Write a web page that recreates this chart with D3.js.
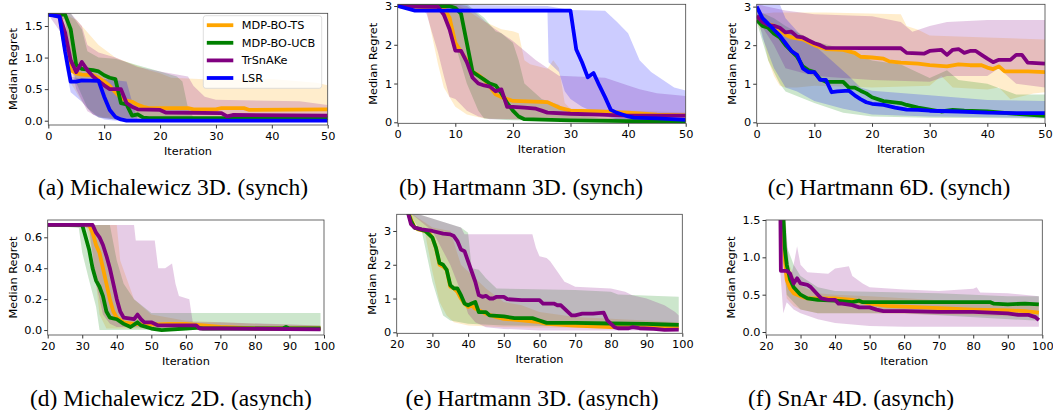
<!DOCTYPE html>
<html>
<head>
<meta charset="utf-8">
<script src="https://cdn.jsdelivr.net/npm/d3@7"></script>
<style>
  body { margin: 0; background: #fff; }
  svg { display: block; }
  .tick text { font-family: "DejaVu Sans", sans-serif; font-size: 11.3px; fill: #000; }
  .lab { font-family: "DejaVu Sans", sans-serif; font-size: 11.3px; fill: #000; }
  .cap { font-family: "Liberation Serif", "Times New Roman", serif; font-size: 23.5px; fill: #000; }
</style>
</head>
<body>
<div id="container"></div>
<script>
const names = ["MDP-BO-TS", "MDP-BO-UCB", "TrSnAKe", "LSR"];
const colors = ["#ffa500", "#008000", "#800080", "#0000ff"];

const topXTicks = [0, 10, 20, 30, 40, 50];
const botXTicks = [20, 30, 40, 50, 60, 70, 80, 90, 100];

// (a) Michalewicz 3D (synch)
const aTsMed = [[0,1.68],[2,1.66],[3,1.15],[4,0.8],[5,0.75],[6,0.73],[8,0.72],[9,0.68],[10,0.62],[11,0.55],[12,0.45],[13,0.36],[14,0.32],[15,0.3],[16,0.25],[17,0.22],[18,0.2],[25,0.2],[26,0.18],[30,0.18],[31,0.2],[35,0.2],[36,0.17],[50,0.18]];
const aTsLo = [[0,1.68],[2,1.6],[3,1.0],[4,0.6],[6,0.3],[8,0.1],[10,0.05],[50,0.04]];
const aTsHi = [[0,1.68],[3,1.68],[5,1.6],[7,1.4],[9,1.2],[12,1.0],[15,0.9],[18,0.8],[20,0.75],[22,0.68],[30,0.65],[40,0.66],[48,0.6],[50,0.56]];
const aUcbMed = [[0,1.68],[3,1.68],[4,1.45],[5,0.88],[6,0.82],[8,0.8],[9,0.78],[10,0.72],[11,0.68],[12,0.66],[13,0.28],[14,0.26],[15,0.08],[16,0.1],[17,0.05],[18,0.04],[50,0.04]];
const aUcbLo = [[0,1.68],[3,1.6],[4,1.0],[5,0.6],[7,0.2],[9,0.05],[12,0.02],[50,0.02]];
const aUcbHi = [[0,1.7],[4,1.7],[6,1.45],[7,1.1],[9,1.0],[12,0.98],[16,0.88],[20,0.78],[23,0.7],[24,0.62],[25,0.2],[26,0.05],[50,0.05]];
const aTrMed = [[0,1.68],[2,1.66],[3,1.4],[4,0.96],[5,0.77],[6,0.93],[7,0.8],[8,0.7],[9,0.63],[10,0.56],[11,0.5],[13,0.5],[14,0.28],[15,0.22],[16,0.18],[20,0.17],[21,0.13],[31,0.12],[32,0.07],[33,0.09],[50,0.08]];
const aTrLo = [[0,1.68],[3,1.3],[5,0.5],[7,0.15],[9,0.05],[12,0.02],[50,0.02]];
const aTrHi = [[0,1.7],[4,1.7],[6,1.5],[7,1.2],[9,1.08],[12,1.0],[16,0.85],[20,0.78],[25,0.7],[26,0.55],[28,0.38],[30,0.33],[45,0.31],[50,0.25]];
const aLsrMed = [[0,1.68],[2,1.65],[3,1.1],[4,0.62],[5,0.62],[6,0.64],[9,0.63],[10,0.38],[11,0.17],[12,0.06],[13,0.02],[14,0.0],[50,0.0]];
const aLsrLo = [[0,1.68],[2,1.6],[3,0.9],[4,0.45],[6,0.3],[8,0.1],[10,0.02],[12,0.0],[50,0.0]];
const aLsrHi = [[0,1.68],[2,1.68],[3,1.5],[4,0.7],[6,0.66],[10,0.66],[12,0.64],[14,0.62],[15,0.3],[16,0.02],[50,0.02]];

// (b) Hartmann 3D (synch)
const bTsMed = [[0,3.0],[8,2.95],[9,2.7],[10,2.05],[11,1.82],[12,1.6],[13,1.3],[14,1.22],[15,1.1],[16,0.92],[17,0.72],[18,0.65],[19,0.6],[20,0.55],[26,0.52],[27,0.45],[28,0.38],[30,0.3],[35,0.28],[40,0.25],[45,0.2],[50,0.18]];
const bTsLo = [[0,3.0],[5,2.9],[6,2.2],[7,1.5],[8,0.9],[10,0.4],[12,0.2],[15,0.1],[20,0.08],[50,0.05]];
const bTsHi = [[0,3.05],[10,3.05],[12,2.9],[15,2.6],[18,2.4],[20,2.35],[21,2.3],[22,1.6],[23,1.5],[26,1.38],[27,1.6],[28,1.4],[29,0.5],[30,0.35],[50,0.25]];
const bUcbMed = [[0,3.0],[9,3.0],[10,2.95],[11,2.8],[12,2.05],[13,1.3],[14,1.2],[15,1.1],[16,1.0],[17,0.95],[18,0.75],[19,0.5],[20,0.3],[21,0.15],[22,0.08],[25,0.07],[30,0.05],[40,0.03],[50,0.02]];
const bUcbLo = [[0,3.0],[8,2.9],[10,2.0],[12,1.0],[14,0.3],[15,0.1],[20,0.05],[50,0.01]];
const bUcbHi = [[0,3.05],[12,3.05],[15,2.7],[17,2.35],[18,2.3],[20,2.05],[21,1.6],[22,1.0],[25,0.6],[28,0.45],[30,0.2],[35,0.12],[50,0.08]];
const bTrMed = [[0,3.0],[7,2.98],[8,2.78],[9,2.4],[10,1.85],[11,1.84],[12,1.55],[13,1.15],[14,1.0],[15,0.95],[16,0.92],[17,0.8],[18,0.85],[19,0.4],[20,0.4],[22,0.38],[24,0.35],[25,0.3],[26,0.25],[30,0.22],[35,0.2],[40,0.17],[50,0.17]];
const bTrLo = [[0,3.0],[4,2.95],[5,2.8],[6,2.3],[7,1.8],[8,1.2],[9,0.65],[10,0.6],[11,0.45],[12,0.3],[14,0.15],[16,0.08],[50,0.05]];
const bTrHi = [[0,3.05],[10,3.05],[12,3.0],[13,2.9],[16,2.5],[20,2.1],[24,1.6],[26,1.4],[28,1.2],[36,1.15],[40,0.95],[42,0.85],[45,0.75],[50,0.68]];
const bLsrMed = [[0,3.0],[3,2.88],[30,2.88],[31,1.88],[32,1.55],[33,1.16],[34,1.27],[35,0.95],[36,0.65],[37,0.32],[38,0.25],[39,0.2],[40,0.15],[41,0.12],[45,0.1],[50,0.06]];
const bLsrLo = [[0,3.0],[3,2.85],[26,2.85],[26.2,1.55],[28,1.3],[29,0.8],[30,0.6],[32,0.4],[35,0.2],[38,0.08],[50,0.04]];
const bLsrHi = [[0,3.05],[26,3.0],[30,2.9],[36,2.88],[38,2.6],[40,2.3],[42,1.6],[44,1.3],[46,1.1],[48,0.9],[50,0.82]];

// (c) Hartmann 6D (synch)
const cTsMed = [[0,2.65],[2,2.55],[3,2.5],[4,2.4],[5,2.27],[6,2.2],[8,2.15],[10,2.0],[12,1.9],[15,1.88],[17,1.8],[18,1.7],[20,1.68],[22,1.65],[23,1.58],[25,1.55],[28,1.52],[30,1.48],[33,1.45],[35,1.5],[37,1.48],[39,1.48],[40,1.42],[41,1.38],[42,1.45],[43,1.32],[47,1.32],[50,1.3]];
const cTsLo = [[0,2.6],[1,2.3],[2,1.6],[3,1.2],[4,0.95],[5,0.9],[7,0.9],[10,0.95],[20,0.9],[30,0.95],[32,1.2],[34,0.9],[40,0.85],[42,0.9],[44,0.6],[48,0.75],[50,0.78]];
const cTsHi = [[0,2.8],[3,2.85],[12,2.85],[25,2.8],[26,2.5],[28,2.4],[30,2.25],[40,2.2],[50,2.15]];
const cUcbMed = [[0,2.65],[1,2.5],[2,2.45],[3,2.3],[4,2.2],[5,2.0],[6,1.85],[7,1.7],[8,1.45],[9,1.35],[10,1.3],[11,1.12],[12,1.05],[15,1.05],[16,0.9],[17,0.9],[18,0.82],[19,0.75],[20,0.65],[22,0.55],[25,0.5],[26,0.45],[28,0.38],[30,0.33],[32,0.28],[34,0.32],[36,0.3],[40,0.28],[45,0.22],[50,0.17]];
const cUcbLo = [[0,2.6],[2,1.6],[4,1.0],[5,0.8],[10,0.5],[15,0.25],[20,0.15],[30,0.12],[50,0.1]];
const cUcbHi = [[0,2.9],[3,2.7],[5,2.5],[10,2.1],[15,1.9],[20,1.6],[25,1.5],[30,1.15],[33,1.35],[35,1.1],[40,1.0],[45,0.72],[50,0.72]];
const cTrMed = [[0,2.76],[1,2.6],[2,2.52],[3,2.5],[4,2.45],[5,2.33],[6,2.35],[7,2.22],[8,2.2],[9,2.12],[10,2.05],[11,2.0],[12,1.93],[25,1.92],[26,1.8],[29,1.78],[30,1.85],[32,1.88],[33,1.75],[34,1.88],[35,1.9],[36,1.8],[37,1.85],[38,1.85],[39,1.75],[40,1.65],[41,1.56],[42,1.62],[44,1.62],[45,1.75],[46,1.75],[47,1.55],[50,1.52]];
const cTrLo = [[0,2.7],[3,2.0],[5,1.4],[10,1.2],[20,1.1],[30,1.05],[33,1.2],[40,1.2],[42,1.4],[45,1.0],[50,0.9]];
const cTrHi = [[0,3.06],[5,2.9],[10,2.8],[20,2.75],[25,2.6],[27,2.35],[30,2.5],[33,2.6],[40,2.65],[50,2.65]];
const cLsrMed = [[0,3.0],[1,2.7],[2,2.55],[3,2.4],[4,2.25],[5,2.05],[6,1.85],[7,1.75],[8,1.4],[9,1.3],[10,1.3],[11,1.1],[12,1.1],[13,0.78],[14,0.8],[16,0.82],[17,0.7],[18,0.6],[19,0.52],[20,0.48],[22,0.45],[24,0.38],[26,0.33],[28,0.32],[30,0.3],[35,0.28],[40,0.25],[45,0.24],[50,0.24]];
const cLsrLo = [[0,2.9],[1,2.2],[3,1.4],[5,0.9],[7,0.8],[10,0.55],[15,0.35],[20,0.2],[30,0.15],[50,0.12]];
const cLsrHi = [[0,3.06],[4,3.06],[5,2.7],[8,2.2],[10,2.0],[13,1.6],[16,1.2],[18,0.9],[20,0.82],[30,0.7],[40,0.58],[50,0.55]];

// (d) Michalewicz 2D (asynch)
const dTsMed = [[20,0.68],[32,0.68],[33,0.63],[34,0.55],[35,0.5],[36,0.4],[37,0.3],[38,0.2],[39,0.12],[40,0.08],[42,0.05],[45,0.04],[50,0.035],[55,0.04],[60,0.04],[65,0.03],[70,0.02],[80,0.01],[99,0.01]];
const dTsLo = [[20,0.68],[31,0.68],[33,0.5],[35,0.1],[37,0.01],[99,0.0]];
const dTsHi = [[20,0.68],[40,0.68],[41,0.45],[45,0.2],[50,0.1],[60,0.06],[80,0.04],[99,0.03]];
const dUcbMed = [[20,0.68],[30,0.68],[31,0.6],[32,0.52],[33,0.4],[34,0.32],[35,0.28],[36,0.22],[37,0.12],[38,0.08],[40,0.07],[42,0.04],[44,0.02],[46,0.05],[47,0.03],[50,0.01],[53,0.0],[60,0.01],[63,0.015],[65,0.01],[88,0.01],[89,0.02],[90,0.01],[99,0.01]];
const dUcbLo = [[20,0.68],[29,0.66],[30,0.5],[32,0.32],[34,0.15],[35,0.0],[99,0.0]];
const dUcbHi = [[20,0.68],[38,0.68],[40,0.45],[42,0.3],[45,0.2],[50,0.11],[99,0.11]];
const dTrMed = [[20,0.68],[33,0.68],[34,0.63],[35,0.6],[36,0.55],[37,0.48],[38,0.4],[39,0.3],[40,0.2],[41,0.12],[42,0.08],[45,0.07],[46,0.1],[47,0.07],[48,0.05],[50,0.05],[52,0.03],[63,0.03],[64,0.01],[70,0.01],[99,0.005]];
const dTrLo = [[20,0.68],[32,0.66],[34,0.3],[36,0.1],[38,0.04],[40,0.02],[99,0.0]];
const dTrHi = [[20,0.68],[45,0.68],[45.5,0.58],[51,0.58],[52,0.4],[54,0.4],[56,0.43],[57,0.3],[58,0.22],[61,0.2],[62,0.05],[70,0.05],[99,0.03]];

// (e) Hartmann 3D (asynch)
const eTsMed = [[23,3.6],[24,3.35],[25,3.1],[26,3.05],[28,3.0],[29,2.95],[30,2.8],[31,2.5],[32,2.0],[33,1.95],[34,1.85],[35,1.35],[36,1.3],[37,1.2],[38,1.0],[39,0.85],[40,0.75],[41,0.8],[42,0.7],[44,0.6],[45,0.55],[48,0.45],[50,0.4],[55,0.35],[60,0.3],[62,0.25],[70,0.2],[80,0.15],[90,0.15],[99,0.13]];
const eTsLo = [[23,3.6],[25,3.05],[28,2.9],[30,1.8],[32,0.9],[34,0.5],[36,0.3],[40,0.2],[50,0.15],[99,0.1]];
const eTsHi = [[23,3.6],[30,3.1],[35,3.0],[38,2.0],[40,1.8],[45,1.3],[50,0.9],[55,0.8],[60,0.6],[70,0.45],[80,0.4],[90,0.35],[99,0.3]];
const eUcbMed = [[23,3.6],[24,3.3],[25,3.1],[28,3.0],[30,2.8],[31,2.5],[32,2.05],[33,2.0],[34,1.85],[35,1.4],[36,1.3],[37,1.3],[38,1.1],[39,0.85],[40,0.8],[41,0.85],[42,0.9],[43,0.6],[45,0.6],[46,0.5],[50,0.47],[53,0.42],[58,0.42],[60,0.35],[62,0.28],[70,0.28],[80,0.26],[90,0.25],[95,0.23],[99,0.22]];
const eUcbLo = [[23,3.6],[26,3.1],[27,3.0],[28,2.5],[30,1.5],[32,0.8],[33,0.5],[35,0.35],[40,0.25],[50,0.2],[99,0.15]];
const eUcbHi = [[23,3.6],[38,3.1],[40,2.95],[41,1.9],[43,1.85],[45,1.6],[48,1.3],[70,1.25],[80,1.2],[82,1.12],[99,1.05]];
const eTrMed = [[23,3.6],[24,3.2],[25,3.1],[27,3.05],[30,3.0],[33,2.92],[35,2.9],[36,2.85],[37,2.7],[38,2.45],[39,2.4],[40,2.1],[41,1.8],[42,1.5],[43,1.1],[44,1.05],[45,1.08],[46,1.0],[47,1.0],[48,1.05],[50,1.05],[51,0.98],[55,0.95],[60,0.95],[61,0.85],[64,0.85],[65,0.8],[66,0.8],[69,0.5],[70,0.5],[72,0.55],[75,0.55],[78,0.58],[79,0.35],[81,0.15],[82,0.12],[85,0.12],[86,0.15],[88,0.12],[92,0.1],[95,0.07],[99,0.08]];
const eTrLo = [[23,3.6],[30,3.0],[35,2.0],[38,1.2],[40,0.55],[42,0.3],[45,0.15],[50,0.1],[60,0.05],[99,0.05]];
const eTrHi = [[23,3.6],[38,3.1],[39,2.9],[58,2.9],[59,2.5],[60,2.25],[62,2.2],[63,2.1],[65,1.8],[67,1.5],[68,1.45],[70,1.35],[80,1.3],[84,1.2],[86,1.1],[90,1.0],[95,0.8],[98,0.6],[99,0.5]];

// (f) SnAr 4D (asynch)
const fTsMed = [[24,2.5],[25.4,1.0],[26,0.7],[27,0.58],[28,0.52],[30,0.48],[32,0.45],[40,0.45],[45,0.43],[50,0.38],[55,0.35],[60,0.34],[70,0.32],[80,0.3],[90,0.29],[95,0.28],[99,0.26]];
const fTsLo = [[24,1.5],[26,0.45],[28,0.35],[30,0.3],[35,0.25],[50,0.25],[99,0.2]];
const fTsHi = [[24,2.5],[25,1.2],[26,1.0],[28,0.75],[30,0.62],[35,0.52],[40,0.5],[50,0.48],[99,0.35]];
const fUcbMed = [[24,2.5],[25.5,1.1],[26,0.9],[27,0.7],[28,0.6],[30,0.5],[32,0.45],[35,0.43],[40,0.42],[45,0.4],[47,0.42],[48,0.4],[85,0.4],[86,0.38],[90,0.37],[95,0.38],[99,0.37]];
const fUcbLo = [[24,1.5],[26,0.5],[28,0.4],[30,0.3],[35,0.25],[60,0.25],[99,0.15]];
const fUcbHi = [[24,2.5],[25,1.5],[26,1.15],[28,0.9],[30,0.75],[35,0.6],[40,0.55],[60,0.53],[70,0.52],[80,0.5],[90,0.48],[99,0.48]];
const fTrMed = [[24,2.5],[24.3,0.82],[26,0.82],[27,0.78],[28,0.65],[29,0.72],[30,0.65],[32,0.63],[33,0.6],[34,0.55],[35,0.5],[36,0.45],[38,0.43],[40,0.43],[41,0.38],[42,0.38],[45,0.36],[47,0.33],[50,0.33],[52,0.3],[54,0.28],[60,0.28],[70,0.27],[80,0.27],[90,0.25],[93,0.23],[96,0.23],[98,0.2],[99,0.16]];
const fTrLo = [[24,0.9],[25,0.25],[26,0.4],[28,0.3],[30,0.25],[35,0.17],[40,0.12],[50,0.08],[60,0.07],[99,0.07]];
const fTrHi = [[24,2.5],[27,0.7],[28,0.9],[29,1.15],[30,0.9],[32,0.8],[38,0.78],[40,0.85],[44,0.88],[45,0.75],[48,0.65],[50,0.6],[60,0.57],[70,0.55],[80,0.58],[81,0.6],[82,0.53],[90,0.52],[99,0.48]];

const panels = [
  { box: [48.3, 327.7, 13.3, 125], xd: [0, 50], yd: [-0.068, 1.701], xt: topXTicks, yt: [0, 0.5, 1.0, 1.5], fmt: ".1f",
    ylabX: 13.3, cap: "(a) Michalewicz 3D. (synch)", capX: 173, capY: 195,
    s: [[aTsMed, aTsLo, aTsHi], [aUcbMed, aUcbLo, aUcbHi], [aTrMed, aTrLo, aTrHi], [aLsrMed, aLsrLo, aLsrHi]], legend: true },
  { box: [397.7, 685.7, 4.3, 123.3], xd: [0, 50], yd: [-0.026, 3.044], xt: topXTicks, yt: [0, 1, 2, 3], fmt: "d",
    ylabX: 373, cap: "(b) Hartmann 3D. (synch)", capX: 521, capY: 195,
    s: [[bTsMed, bTsLo, bTsHi], [bUcbMed, bUcbLo, bUcbHi], [bTrMed, bTrLo, bTrHi], [bLsrMed, bLsrLo, bLsrHi]] },
  { box: [756.7, 1045, 4.3, 123.3], xd: [0, 50], yd: [-0.026, 3.06], xt: topXTicks, yt: [0, 1, 2, 3], fmt: "d",
    ylabX: 731.7, cap: "(c) Hartmann 6D. (synch)", capX: 889, capY: 195,
    s: [[cTsMed, cTsLo, cTsHi], [cUcbMed, cUcbLo, cUcbHi], [cTrMed, cTrLo, cTrHi], [cLsrMed, cLsrLo, cLsrHi]] },
  { box: [47.7, 324, 220, 335], xd: [20, 100], yd: [-0.032, 0.712], xt: botXTicks, yt: [0, 0.2, 0.4, 0.6], fmt: ".1f",
    ylabX: 13.3, cap: "(d) Michalewicz 2D. (asynch)", capX: 171, capY: 406,
    s: [[dTsMed, dTsLo, dTsHi], [dUcbMed, dUcbLo, dUcbHi], [dTrMed, dTrLo, dTrHi]] },
  { box: [396.7, 682.3, 214.3, 333.3], xd: [20, 100], yd: [-0.03, 3.494], xt: botXTicks, yt: [0, 1, 2, 3], fmt: "d",
    ylabX: 372, cap: "(e) Hartmann 3D. (asynch)", capX: 532, capY: 406,
    s: [[eTsMed, eTsLo, eTsHi], [eUcbMed, eUcbLo, eUcbHi], [eTrMed, eTrLo, eTrHi]] },
  { box: [766, 1042.3, 220, 335], xd: [20, 100], yd: [-0.04, 1.5], xt: botXTicks, yt: [0, 0.5, 1.0, 1.5], fmt: ".1f",
    ylabX: 730.7, cap: "(f) SnAr 4D. (asynch)", capX: 851, capY: 406,
    s: [[fTsMed, fTsLo, fTsHi], [fUcbMed, fUcbLo, fUcbHi], [fTrMed, fTrLo, fTrHi]] }
];

const svg = d3.select("#container").append("svg")
  .attr("width", 1053).attr("height", 410);

panels.forEach((p, pi) => {
  const [x0, x1, y0, y1] = p.box;
  const x = d3.scaleLinear().domain(p.xd).range([x0, x1]);
  const y = d3.scaleLinear().domain(p.yd).range([y1, y0]);

  svg.append("clipPath").attr("id", "clip" + pi)
    .append("rect").attr("x", x0).attr("y", y0).attr("width", x1 - x0).attr("height", y1 - y0);

  const g = svg.append("g").attr("clip-path", `url(#clip${pi})`);
  const line = d3.line().x(d => x(d[0])).y(d => y(d[1]));

  // bands
  p.s.forEach((s, i) => {
    const poly = s[2].concat(s[1].slice().reverse());
    g.append("path").attr("d", line(poly) + "Z")
      .attr("fill", colors[i]).attr("fill-opacity", 0.2).attr("stroke", "none");
  });
  // medians
  p.s.forEach((s, i) => {
    g.append("path").attr("d", line(s[0]))
      .attr("fill", "none").attr("stroke", colors[i]).attr("stroke-width", 3.8)
      .attr("stroke-linejoin", "round");
  });

  svg.append("g").attr("transform", `translate(0,${y1})`)
    .call(d3.axisBottom(x).tickValues(p.xt).tickSize(3.5).tickPadding(3.5).tickFormat(d3.format("d")))
    .call(a => a.select(".domain").remove());
  svg.append("g").attr("transform", `translate(${x0},0)`)
    .call(d3.axisLeft(y).tickValues(p.yt).tickSize(3.5).tickPadding(2).tickFormat(d3.format(p.fmt)))
    .call(a => a.select(".domain").remove());
  svg.selectAll(".tick line").attr("stroke", "#000").attr("stroke-width", 0.8);

  svg.append("rect").attr("x", x0).attr("y", y0).attr("width", x1 - x0).attr("height", y1 - y0)
    .attr("fill", "none").attr("stroke", "#444").attr("stroke-width", 0.8);

  svg.append("text").attr("class", "lab").attr("text-anchor", "middle")
    .attr("x", (x0 + x1) / 2).attr("y", y1 + 30).text("Iteration");
  svg.append("text").attr("class", "lab").attr("text-anchor", "middle")
    .attr("transform", `translate(${p.ylabX},${(y0 + y1) / 2}) rotate(-90)`)
    .attr("dy", "0.35em").text("Median Regret");

  svg.append("text").attr("class", "cap").attr("text-anchor", "middle")
    .attr("x", p.capX).attr("y", p.capY).text(p.cap);

  if (p.legend) {
    const lg = svg.append("g").attr("transform", "translate(203.3,15.7)");
    lg.append("rect").attr("width", 118.4).attr("height", 72.6).attr("rx", 2.5)
      .attr("fill", "#fff").attr("fill-opacity", 0.8).attr("stroke", "#d6d6d6").attr("stroke-width", 0.8);
    names.forEach((n, i) => {
      const yy = 9.5 + i * 17.6;
      lg.append("line").attr("x1", 3.5).attr("x2", 30).attr("y1", yy).attr("y2", yy)
        .attr("stroke", colors[i]).attr("stroke-width", 3.8);
      lg.append("text").attr("class", "lab").attr("x", 38.5).attr("y", yy).attr("dy", "0.36em").text(n);
    });
  }
});
</script>
</body>
</html>
